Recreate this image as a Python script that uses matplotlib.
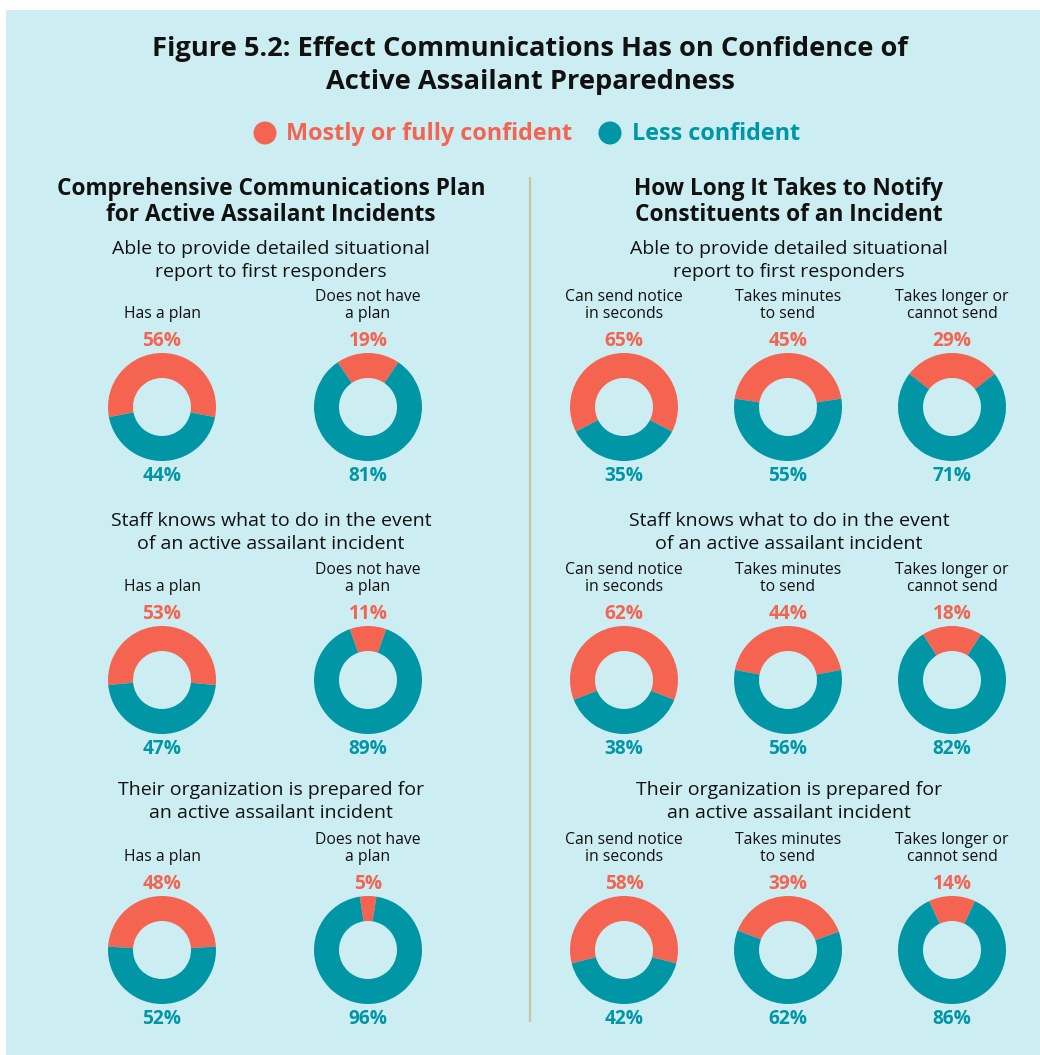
import matplotlib
matplotlib.use('Agg')
import matplotlib.pyplot as plt
from matplotlib.patches import Rectangle, Circle

# ─── data ────────────────────────────────────────────────────────────────
title_lines = ['Figure 5.2: Effect Communications Has on Confidence of',
               'Active Assailant Preparedness']
legend_labels = ['Mostly or fully confident', 'Less confident']

left_header = ['Comprehensive Communications Plan', 'for Active Assailant Incidents']
right_header = ['How Long It Takes to Notify', 'Constituents of an Incident']

questions = [
    ['Able to provide detailed situational', 'report to first responders'],
    ['Staff knows what to do in the event', 'of an active assailant incident'],
    ['Their organization is prepared for', 'an active assailant incident'],
]

plan_groups = ['Has a plan', 'Does not have\na plan']
notify_groups = ['Can send notice\nin seconds', 'Takes minutes\nto send',
                 'Takes longer or\ncannot send']

# % mostly or fully confident / % less confident, one row per question
plan_confident = [[56, 19], [53, 11], [48, 5]]
plan_less = [[44, 81], [47, 89], [52, 96]]
notify_confident = [[65, 45, 29], [62, 44, 18], [58, 39, 14]]
notify_less = [[35, 55, 71], [38, 56, 82], [42, 62, 86]]

# ─── style ───────────────────────────────────────────────────────────────
ORANGE = '#F46451'
TEAL = '#0096A6'
BG = '#CCEDF2'
LINE = '#C9C79A'
INK = '#111111'

plt.rcParams['font.family'] = ['Open Sans', 'DejaVu Sans']

W, H = 1040, 1055
fig = plt.figure(figsize=(W / 100, H / 100), dpi=100)
fig.patch.set_facecolor('white')
ax = fig.add_axes([0, 0, 1, 1])


def Y(py):
    return H - py


def TY(py):
    # text sits a touch high with va='center', nudge it down
    return H - py - 2


ax.add_patch(Rectangle((6, 0), W - 6, H - 10, facecolor=BG, edgecolor='none', zorder=0))

# title
for i, line in enumerate(title_lines):
    ax.text(530, TY(47 + 33 * i), line, ha='center', va='center',
            fontsize=19.6, fontweight='bold', color=INK)

# legend
for cx, tx, lab, col in [(265, 286, legend_labels[0], ORANGE),
                         (610, 632, legend_labels[1], TEAL)]:
    ax.add_patch(Circle((cx, Y(133)), 11.5, facecolor=col, edgecolor='none'))
    ax.text(tx, TY(132), lab, ha='left', va='center', fontsize=16.8,
            fontweight='bold', color=col)

# section headers
for cx, hdr in [(271, left_header), (789, right_header)]:
    for i, line in enumerate(hdr):
        ax.text(cx, TY(187 + 26 * i), line, ha='center', va='center',
                fontsize=16.3, fontweight='bold', color=INK)

# divider
ax.plot([530, 530], [Y(177), Y(1022)], color=LINE, lw=1.6, solid_capstyle='butt')

row_c = [407, 680, 950]
q_top = [247, 519, 788]
R, RW = 54, 25


def donut(cx, cy, conf, less, group):
    ang = conf * 3.6
    ax.pie([conf, less], colors=[ORANGE, TEAL], center=(cx, Y(cy)), radius=R,
           startangle=90 - ang / 2, counterclock=True, frame=True,
           wedgeprops=dict(width=RW, linewidth=0))
    ax.text(cx, Y(cy - 85), group, ha='center', va='bottom', fontsize=11.3,
            color=INK, linespacing=1.05)
    ax.text(cx, TY(cy - 68), f'{conf}%', ha='center', va='center', fontsize=13.8,
            fontweight='bold', color=ORANGE)
    ax.text(cx, TY(cy + 67), f'{less}%', ha='center', va='center', fontsize=13.8,
            fontweight='bold', color=TEAL)


for r in range(3):
    for cx in (271, 789):
        for i, line in enumerate(questions[r]):
            ax.text(cx, TY(q_top[r] + 23 * i), line, ha='center', va='center',
                    fontsize=14, color=INK)
    for j, cx in enumerate([162, 368]):
        donut(cx, row_c[r], plan_confident[r][j], plan_less[r][j], plan_groups[j])
    for j, cx in enumerate([624, 788, 952]):
        donut(cx, row_c[r], notify_confident[r][j], notify_less[r][j], notify_groups[j])

ax.set_xlim(0, W)
ax.set_ylim(0, H)
ax.set_aspect('auto')
ax.axis('off')

fig.savefig('out.png', dpi=100, facecolor=fig.get_facecolor())
